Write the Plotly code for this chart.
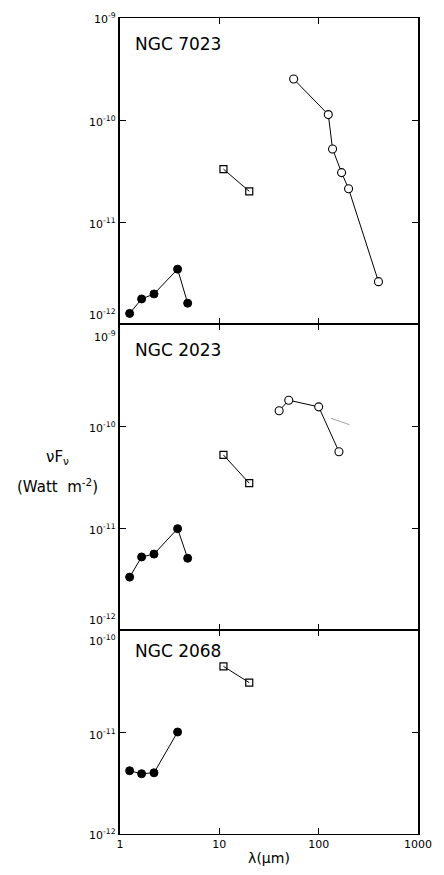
import plotly.graph_objects as go
from plotly.subplots import make_subplots

# ---- data (wavelength in micron, nuF_nu in W m^-2) ----
panel_names = ["NGC 7023", "NGC 2023", "NGC 2068"]

# NGC 7023
n7023_nir_x = [1.25, 1.65, 2.2, 3.8, 4.8]
n7023_nir_y = [1.27e-12, 1.76e-12, 1.97e-12, 3.45e-12, 1.6e-12]
n7023_mir_x = [11, 20]
n7023_mir_y = [3.3e-11, 2.0e-11]
n7023_fir_x = [56, 125, 138, 170, 200, 400]
n7023_fir_y = [2.52e-10, 1.13e-10, 5.2e-11, 3.05e-11, 2.12e-11, 2.6e-12]

# NGC 2023
n2023_nir_x = [1.25, 1.65, 2.2, 3.8, 4.8]
n2023_nir_y = [3.3e-12, 5.2e-12, 5.55e-12, 9.85e-12, 5.05e-12]
n2023_mir_x = [11, 20]
n2023_mir_y = [5.2e-11, 2.75e-11]
n2023_fir_x = [40, 50, 100, 160]
n2023_fir_y = [1.41e-10, 1.79e-10, 1.54e-10, 5.6e-11]
n2023_stray_x = [133, 204]
n2023_stray_y = [1.19e-10, 1.03e-10]

# NGC 2068
n2068_nir_x = [1.25, 1.65, 2.2, 3.8]
n2068_nir_y = [4.17e-12, 3.9e-12, 3.98e-12, 1.0e-11]
n2068_mir_x = [11, 20]
n2068_mir_y = [4.4e-11, 3.05e-11]

x_tick_vals = [1, 10, 100, 1000]
x_tick_text = ["1", "10", "100", "1000"]
y_ranges = [(-12, -9), (-12, -9), (-12, -10)]

FONT = "DejaVu Sans"

fig = make_subplots(rows=3, cols=1, shared_xaxes=True, vertical_spacing=0,
                    row_heights=[3, 3, 2])

def add_series(row, x, y, kind):
    if kind == "nir":
        marker = dict(symbol="circle", size=8, color="black",
                      line=dict(color="black", width=1))
    elif kind == "mir":
        marker = dict(symbol="square-open", size=7, color="black",
                      line=dict(color="black", width=1.2))
    else:
        marker = dict(symbol="circle", size=8, color="white",
                      line=dict(color="black", width=1.1))
    fig.add_trace(go.Scatter(x=x, y=y, mode="lines+markers",
                             line=dict(color="black", width=1),
                             marker=marker, showlegend=False,
                             hoverinfo="skip"), row=row, col=1)

add_series(1, n7023_nir_x, n7023_nir_y, "nir")
add_series(1, n7023_mir_x, n7023_mir_y, "mir")
add_series(1, n7023_fir_x, n7023_fir_y, "fir")
add_series(2, n2023_nir_x, n2023_nir_y, "nir")
add_series(2, n2023_mir_x, n2023_mir_y, "mir")
add_series(2, n2023_fir_x, n2023_fir_y, "fir")
fig.add_trace(go.Scatter(x=n2023_stray_x, y=n2023_stray_y, mode="lines",
                         line=dict(color="#888888", width=0.8),
                         showlegend=False, hoverinfo="skip"), row=2, col=1)
add_series(3, n2068_nir_x, n2068_nir_y, "nir")
add_series(3, n2068_mir_x, n2068_mir_y, "mir")

for r in range(1, 4):
    lo, hi = y_ranges[r - 1]
    fig.update_yaxes(type="log", range=[lo, hi],
                     tickvals=[10.0 ** e for e in range(lo, hi + 1)],
                     showticklabels=False,
                     ticks="inside", ticklen=6, tickwidth=1, tickcolor="black",
                     showline=True, linecolor="black", linewidth=1.5,
                     mirror="ticks", showgrid=False, zeroline=False,
                     row=r, col=1)
    fig.update_xaxes(type="log", range=[0, 3],
                     tickvals=x_tick_vals, ticktext=x_tick_text,
                     showticklabels=(r == 3),
                     ticks="inside", ticklen=6, tickwidth=1, tickcolor="black",
                     showline=True, linecolor="black", linewidth=1.2,
                     mirror="ticks", showgrid=False, zeroline=False,
                     tickfont=dict(family=FONT, size=11, color="black"),
                     row=r, col=1)

fig.update_xaxes(title=dict(text="λ(μm)", font=dict(family=FONT, size=14, color="black"),
                            standoff=2), row=3, col=1)

annotations = []
# y tick labels per panel with shifts at panel boundaries
label_shift = {
    (1, -9): 0, (1, -10): -1, (1, -11): -1, (1, -12): 10,
    (2, -9): -12, (2, -10): -1, (2, -11): -1, (2, -12): 11,
    (3, -10): -10, (3, -11): -2, (3, -12): 0,
}
yrefs = ["y", "y2", "y3"]
for r in range(1, 4):
    lo, hi = y_ranges[r - 1]
    for e in range(lo, hi + 1):
        annotations.append(dict(
            text=f"10<sup>{e}</sup>", xref="paper", x=0, yref=yrefs[r - 1], y=e,
            xanchor="right", yanchor="middle", xshift=-2,
            yshift=label_shift[(r, e)], showarrow=False,
            font=dict(family=FONT, size=11, color="black")))
    annotations.append(dict(
        text=panel_names[r - 1], xref="paper", x=0.045,
        yref=f"{yrefs[r - 1]} domain", y=1, xanchor="left", yanchor="top",
        yshift=-14 if r < 3 else -9, showarrow=False,
        font=dict(family=FONT, size=17, color="black")))

annotations.append(dict(
    text="νF<sub>ν</sub>", xref="paper", x=-0.21,
    yref="paper", y=0.462, xanchor="center", yanchor="middle",
    showarrow=False, font=dict(family=FONT, size=15, color="black")))
annotations.append(dict(
    text="(Watt  m<sup>-2</sup>)", xref="paper", x=-0.21,
    yref="paper", y=0.426, xanchor="center", yanchor="middle",
    showarrow=False, font=dict(family=FONT, size=15, color="black")))

fig.update_layout(width=444, height=875,
                  margin=dict(l=120, r=18, t=18, b=40),
                  paper_bgcolor="white", plot_bgcolor="white",
                  annotations=annotations,
                  font=dict(family=FONT, color="black"))

fig.write_html("out.html", config={"displayModeBar": False},
               post_script="document.body.style.margin='0';"
                           "document.body.style.overflow='hidden';")
